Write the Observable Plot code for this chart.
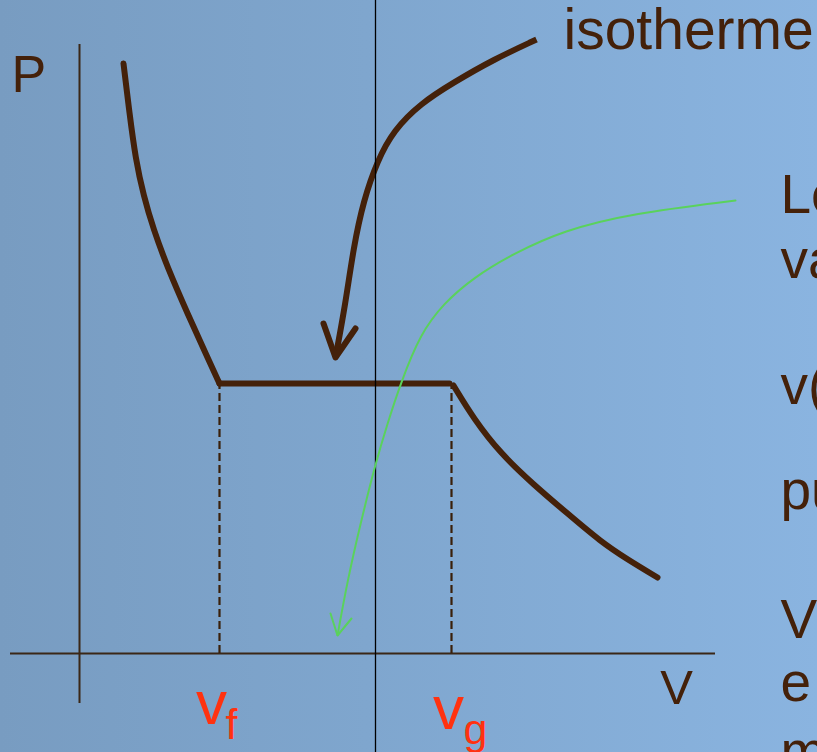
<!DOCTYPE html>
<html>
<head>
<meta charset="utf-8">
<script src="https://cdn.jsdelivr.net/npm/d3@7"></script>
<script src="https://cdn.jsdelivr.net/npm/@observablehq/plot@0.6"></script>
<style>
  html, body { margin: 0; padding: 0; overflow: hidden; background: #8ab3df; }
  #chart svg { display: block; overflow: hidden; }
</style>
</head>
<body>
<div id="chart"></div>
<script>
// Isotherme dans le diagramme (V, P) : branche liquide, palier de changement d'état, branche vapeur
const V_liquide = [4.4, 5.0, 5.6, 6.4, 7.4, 8.8, 10.8, 12.8, 14.0];
const P_liquide = [59.0, 54.0, 49.5, 45.8, 42.4, 38.6, 34.0, 29.6, 27.0];

const vf = 14.0;     // volume du liquide saturé
const vg = 37.2;     // volume de la vapeur saturée
const Psat = 27.0;   // pression du palier

const V_vapeur = [37.4, 39.4, 42.1, 45.4, 48.8, 52.1, 54.8, 57.8];
const P_vapeur = [26.8, 23.5, 20.0, 16.9, 14.0, 11.2, 9.4, 7.6];

// Flèche désignant l'isotherme
const V_fleche = [45.7, 41.4, 37.4, 34.1, 31.4, 29.8, 28.4, 27.4, 26.6, 25.6];
const P_fleche = [61.4, 59.4, 57.1, 55.0, 52.3, 49.3, 45.3, 40.6, 35.0, 29.6];
const V_pointe = [24.4, 25.6, 27.6];
const P_pointe = [33.0, 29.6, 32.5];

// Flèche verte venant du texte de droite
const V_verte = [65.6, 55.1, 48.4, 43.4, 39.4, 36.4, 34.1, 32.1, 30.8, 29.6, 28.1, 26.8, 25.8];
const P_verte = [45.3, 44.0, 42.3, 40.0, 37.6, 35.0, 32.0, 27.0, 23.0, 19.0, 13.0, 7.3, 1.8];
const V_pointeVerte = [25.1, 25.8, 27.2];
const P_pointeVerte = [4.0, 1.8, 3.5];

// Axes
const V_axe = [-6.9, 63.6];
const P_axe = [60.9, -5.0];
const V_separation = 29.6;

// Textes
const textesDroite = ["Les valeurs", "varient", "v(T)", "pur", "V", "e", "m"];
const P_textesDroite = [44.1, 37.6, 25.0, 14.5, 1.6, -4.7, -11.6];

const brun = "#44210a";
const vert = "#5ad25c";
const police = "Liberation Sans, Arial, sans-serif";

const pts = (xs, ys, z) => xs.map((x, i) => ({x, y: ys[i], z}));

const isotherme = [
  ...pts(V_liquide, P_liquide, "liquide"),
  ...pts([vf, vg - 0.2], [Psat, Psat], "palier"),
  ...pts(V_vapeur, P_vapeur, "vapeur")
];

const indices = [
  {base: "v", sub: "f", x: vf - 0.8, y: -7.0, xs: vf + 1.2, ys: -8.5},
  {base: "v", sub: "g", x: vg - 0.3, y: -7.5, xs: vg + 2.4, ys: -9.0}
];

const chart = Plot.plot({
  width: 817,
  height: 752,
  margin: 0,
  x: {domain: [-7.9, 73.8], axis: null},
  y: {domain: [-9.9, 65.3], axis: null},
  style: {
    background: "linear-gradient(to right, #789cc1 0%, #7fa6ce 45%, #8ab4e0 100%)",
    overflow: "hidden"
  },
  marks: [
    // axes
    Plot.ruleY([0], {x1: V_axe[0], x2: V_axe[1], stroke: "#3a2716", strokeWidth: 2.2}),
    Plot.ruleX([0], {y1: P_axe[0], y2: P_axe[1], stroke: "#3a2716", strokeWidth: 2}),
    // pointillés vers vf et vg
    Plot.ruleX([vf, vg], {y1: 0, y2: Psat, stroke: "#3a200a", strokeWidth: 2.2, strokeDasharray: "8,4"}),
    // isotherme
    Plot.line(isotherme, {x: "x", y: "y", z: "z", curve: "basis", stroke: brun, strokeWidth: 6, strokeLinecap: "round"}),
    // flèche
    Plot.line(pts(V_fleche, P_fleche), {x: "x", y: "y", curve: "basis", stroke: brun, strokeWidth: 6, strokeLinecap: "butt"}),
    Plot.line(pts(V_pointe, P_pointe), {x: "x", y: "y", stroke: brun, strokeWidth: 6, strokeLinecap: "round", strokeLinejoin: "round"}),
    // séparation verticale
    Plot.ruleX([V_separation], {stroke: "#000000", strokeWidth: 1.3}),
    // flèche verte
    Plot.line(pts(V_verte, P_verte), {x: "x", y: "y", curve: "basis", stroke: vert, strokeWidth: 2}),
    Plot.line(pts(V_pointeVerte, P_pointeVerte), {x: "x", y: "y", stroke: vert, strokeWidth: 2, strokeLinejoin: "miter"}),
    // textes
    Plot.text(["P"], {x: -6.8, y: 56.2, textAnchor: "start", lineAnchor: "bottom", fontSize: 52, fontFamily: police, fill: brun}),
    Plot.text(["V"], {x: 59.7, y: -5.0, textAnchor: "middle", lineAnchor: "bottom", fontSize: 49, fontFamily: police, fill: brun}),
    Plot.text(["isotherme"], {x: 48.4, y: 60.5, textAnchor: "start", lineAnchor: "bottom", fontSize: 57, fontFamily: police, fill: brun}),
    Plot.text(textesDroite, {x: 70.1, y: (d, i) => P_textesDroite[i], textAnchor: "start", lineAnchor: "bottom", fontSize: 55, fontFamily: police, fill: brun}),
    Plot.text(indices, {x: "x", y: "y", text: "base", textAnchor: "middle", lineAnchor: "bottom", fontSize: 62, fontFamily: police, fill: "#ff3210"}),
    Plot.text(indices, {x: "xs", y: "ys", text: "sub", textAnchor: "middle", lineAnchor: "bottom", fontSize: 43, fontFamily: police, fill: "#ff3210"})
  ]
});

document.getElementById("chart").appendChild(chart);
</script>
</body>
</html>
